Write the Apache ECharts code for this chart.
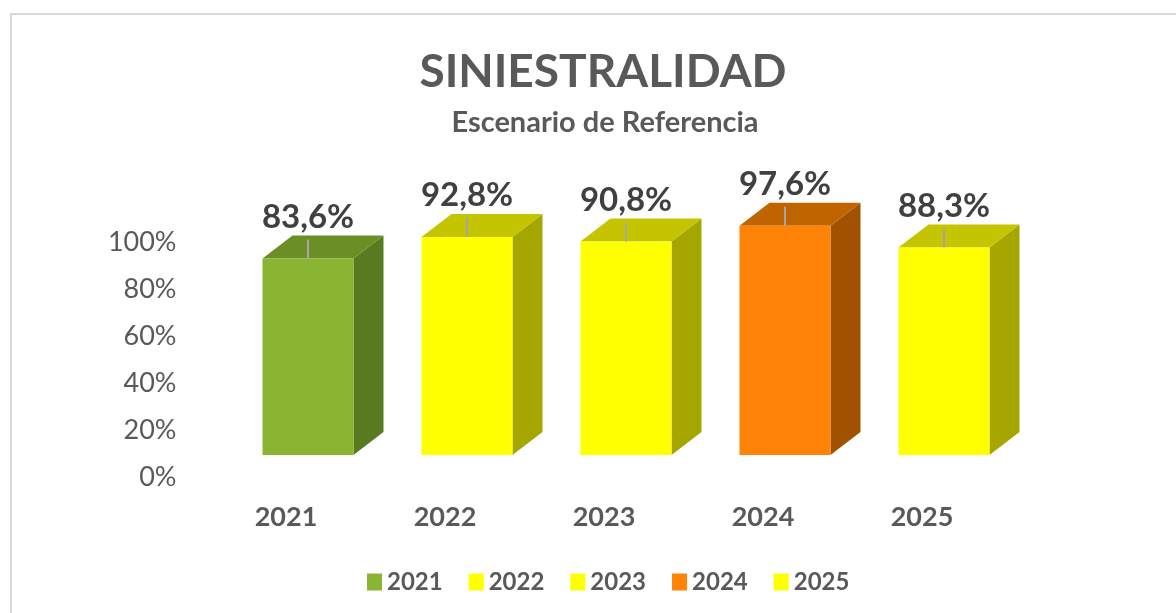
<!DOCTYPE html>
<html>
<head>
<meta charset="utf-8">
<script src="https://cdn.jsdelivr.net/npm/echarts@6/dist/echarts.min.js"></script>
<style>
  html, body { margin: 0; padding: 0; background: #fff; }
  #chart { width: 1176px; height: 613px; }
</style>
</head>
<body>
<div id="chart"></div>
<script>
// 数据
const years = ['2021', '2022', '2023', '2024', '2025'];
const values = [83.6, 92.8, 90.8, 97.6, 88.3];
const yTicks = [0, 20, 40, 60, 80, 100];

// 颜色：正面 / 侧面 / 顶面
const frontColors = ['#8AB533', '#FFFF00', '#FFFF00', '#FF8306', '#FFFF00'];
const sideColors = ['#5A7A21', '#A6A600', '#A6A600', '#A05200', '#A6A600'];
const topColors = ['#6B8E25', '#C4C400', '#C4C400', '#C06400', '#C4C400'];

const FONT = 'Lato, "Open Sans", sans-serif';
const BAR_W = 91;
const DX = 30, DY = -23; // 纵深
const SHIFT = 22; // 正面相对坐标轴的偏移

function fmt(v) {
  return v.toFixed(1).replace('.', ',') + '%';
}

// 画立体柱
function renderBox(params, api) {
  const idx = params.seriesIndex;
  const base = api.coord([api.value(0), 0]);
  const top = api.coord([api.value(0), api.value(1)]);
  const cx = base[0] + SHIFT;
  const x0 = cx - BAR_W / 2, x1 = cx + BAR_W / 2;
  const yb = base[1] - SHIFT, yt = top[1] - SHIFT;
  return {
    type: 'group',
    children: [{
      type: 'polygon',
      shape: { points: [[x1, yt], [x1 + DX, yt + DY], [x1 + DX, yb + DY], [x1, yb]] },
      style: { fill: sideColors[idx] }
    }, {
      type: 'polygon',
      shape: { points: [[x0, yt], [x0 + DX, yt + DY], [x1 + DX, yt + DY], [x1, yt]] },
      style: { fill: topColors[idx] }
    }, {
      type: 'rect',
      shape: { x: x0, y: yt, width: BAR_W, height: yb - yt },
      style: { fill: frontColors[idx] }
    }, {
      type: 'line',
      shape: { x1: cx, y1: yt, x2: cx, y2: yt - 19 },
      style: { stroke: '#A6A6A6', lineWidth: 2 }
    }, {
      type: 'text',
      style: {
        text: fmt(api.value(1)),
        x: cx,
        y: yt + DY - 2,
        align: 'center',
        verticalAlign: 'bottom',
        font: 'bold 33px ' + FONT,
        fill: '#404040'
      }
    }]
  };
}

const chart = echarts.init(document.getElementById('chart'));

const series = years.map(function(y, i) {
  return {
    name: y,
    type: 'custom',
    renderItem: renderBox,
    itemStyle: { color: frontColors[i] },
    data: [[i, values[i]]],
    z: 2
  };
});

chart.setOption({
  animation: false,
  title: [{
    text: 'SINIESTRALIDAD',
    left: 598,
    textAlign: 'center',
    top: 44,
    textStyle: { fontFamily: FONT, fontWeight: 'bold', fontSize: 46, color: '#595959' }
  }, {
    text: 'Escenario de Referencia',
    left: 600,
    textAlign: 'center',
    top: 103,
    textStyle: { fontFamily: FONT, fontWeight: 'bold', fontSize: 29, color: '#595959' }
  }],
  legend: {
    left: 362,
    top: 565,
    icon: 'rect',
    itemWidth: 15,
    itemHeight: 17,
    itemGap: 26,
    textStyle: { fontFamily: FONT, fontWeight: 'bold', fontSize: 24, color: '#595959' },
    data: years
  },
  grid: { left: 206.5, right: 174.5, top: 242, bottom: 136 },
  xAxis: {
    type: 'category',
    data: years,
    axisLine: { show: false },
    axisTick: { show: false },
    axisLabel: {
      margin: 27,
      fontFamily: FONT, fontWeight: 'bold', fontSize: 27, color: '#595959'
    }
  },
  yAxis: {
    type: 'value',
    min: yTicks[0],
    max: yTicks[yTicks.length - 1],
    interval: yTicks[1] - yTicks[0],
    axisLine: { show: false },
    axisTick: { show: false },
    splitLine: { show: false },
    axisLabel: {
      margin: 30,
      fontFamily: FONT, fontSize: 27, color: '#595959',
      formatter: '{value}%'
    }
  },
  graphic: [{
    type: 'rect',
    shape: { x: 11, y: 14, width: 1300, height: 800 },
    style: { fill: 'none', stroke: '#D9D9D9', lineWidth: 2 },
    silent: true
  }],
  series: series
});
</script>
</body>
</html>
